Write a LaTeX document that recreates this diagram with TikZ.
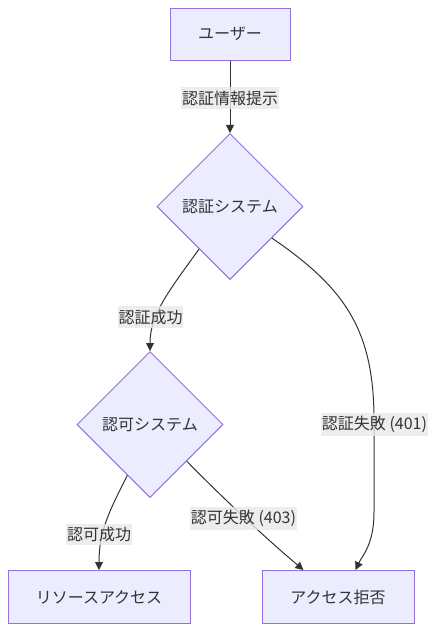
\documentclass[tikz,border=0pt]{standalone}
\usepackage{fontspec}
\setmainfont{Noto Sans CJK JP}
\usetikzlibrary{shapes.geometric,arrows.meta}
\definecolor{nodefill}{HTML}{ECECFF}
\definecolor{nodestroke}{HTML}{9370DB}
\definecolor{edgecol}{HTML}{333333}
\definecolor{labelbg}{HTML}{E8E8E8}
\definecolor{txt}{HTML}{333333}
\tikzset{
  boxnode/.style={draw=nodestroke, fill=nodefill, line width=0.75pt, text=txt, font=\fontsize{12pt}{14pt}\selectfont, inner sep=0pt},
  decision/.style={boxnode, shape=diamond, minimum width=109.5pt, minimum height=109.5pt},
  flowedge/.style={draw=edgecol, line width=0.75pt, -{Triangle[length=6pt,width=6pt]}},
  elabel/.style={fill=labelbg, fill opacity=0.8, text opacity=1, text=txt, inner xsep=0.5pt, inner ysep=2.5pt, font=\fontsize{12pt}{14pt}\selectfont}
}
\begin{document}
\begin{tikzpicture}[x=0.75pt,y=-0.75pt]
\useasboundingbox (0,0) rectangle (442,643);
\node[boxnode, minimum width=90pt, minimum height=39pt] (user) at (230,34) {ユーザー};
\node[decision] (auth) at (230,206.5) {認証システム};
\node[decision] (authz) at (150,424.5) {認可システム};
\node[boxnode, minimum width=136.5pt, minimum height=39.75pt] (res) at (99,597) {リソースアクセス};
\node[boxnode, minimum width=114pt, minimum height=39.75pt] (deny) at (338,597) {アクセス拒否};

\draw[flowedge] (user) -- (auth);
\draw[flowedge] (auth.-126) .. controls (168,292) and (150,315) .. (authz.north);
\draw[flowedge] (auth.-37) .. controls (345,288) and (374,330) .. (374,420) -- (374,512) .. controls (374,545) and (362,556) .. (deny.57);
\draw[flowedge] (authz.-114) .. controls (110,510) and (99,530) .. (res.north);
\draw[flowedge] (authz.-45) .. controls (222,497) and (262,535) .. (deny.142);

\node[elabel] (l1) at (230,98) {認証情報提示};
\node[elabel] (l2) at (150.5,317) {認証成功};
\node[elabel] (l3) at (374.5,424.5) {認証失敗 (401)};
\node[elabel] (l4) at (99,534.5) {認可成功};
\node[elabel] (l5) at (243.5,518.5) {認可失敗 (403)};
\end{tikzpicture}
\end{document}
